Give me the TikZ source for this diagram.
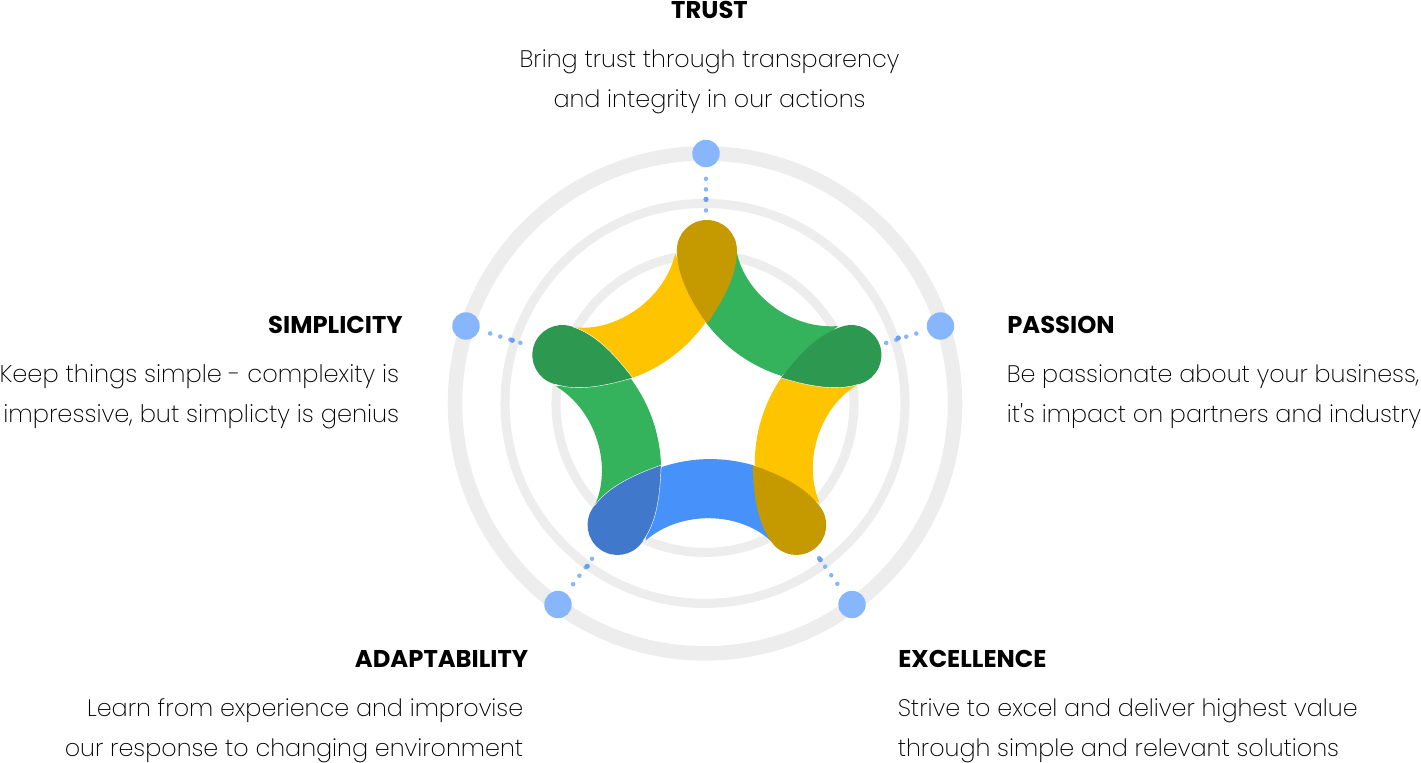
\documentclass[tikz,border=0pt]{standalone}
\usepackage{fontspec}
\newfontfamily\bodyfont{Poppins ExtraLight}
\newfontfamily\headfont{Poppins Bold}
\definecolor{ringgray}{HTML}{EDEDED}
\definecolor{pinblue}{HTML}{88B6FC}
\definecolor{dotdark}{HTML}{6C9FEC}
\definecolor{bandgreen}{HTML}{34B35C}
\definecolor{bandyellow}{HTML}{FFC400}
\definecolor{bandblue}{HTML}{4791FB}
\definecolor{dropgold}{HTML}{C49A00}
\definecolor{dropgreen}{HTML}{2C9850}
\definecolor{dropblue}{HTML}{4079CC}
\begin{document}
\begin{tikzpicture}[
  x=0.75pt, y=-0.75pt,
  ring/.style={draw=ringgray},
  pindot/.style={circle, fill=pinblue, inner sep=0pt, minimum size=20.6pt},
  linkdots/.style={draw=pinblue, line width=3.4pt, line cap=round, dash pattern=on 0pt off 7.9pt},
  seam/.style={draw=white, line width=0.3pt},
  head/.style={font=\headfont\fontsize{18.2}{18.2}\selectfont, inner sep=0pt},
  note/.style={font=\bodyfont\fontsize{17.9}{30}\selectfont, inner sep=0pt}
]
\useasboundingbox (0,0) rectangle (1421,763);
\coordinate (hub) at (705,403.4);
\coordinate (star) at (706.9,402);

% rings
\draw[ring, line width=10.9pt] (hub) circle[radius=250];
\draw[ring, line width=6.8pt] (hub) circle[radius=200];
\draw[ring, line width=6.8pt] (hub) circle[radius=149];

% pins
\node[pindot] (trustpin) at (706,153.5) {};
\node[pindot] (passionpin) at (940.5,326) {};
\node[pindot] (excellencepin) at (852,604.5) {};
\node[pindot] (adaptpin) at (558,604.5) {};
\node[pindot] (simplepin) at (466,326) {};

% dotted links
\coordinate (trustend) at (706,212);
\coordinate (passionend) at (886,343);
\coordinate (excellenceend) at (818.6,557.5);
\coordinate (adaptend) at (594.8,555);
\coordinate (simpleend) at (525,344.2);
\foreach \pinname/\tipname in {trustpin/trustend, passionpin/passionend, excellencepin/excellenceend, adaptpin/adaptend, simplepin/simpleend}
  \draw[linkdots, shorten <=8.5pt] (\pinname) -- (\tipname);
\foreach \x/\y in {706/199.3, 898.3/338, 820.3/559.7, 587.3/566.3, 512.3/340.3}
  \fill[dotdark] (\x,\y) circle[radius=2.6];

% bands
\foreach \k/\col in {0/bandgreen, 1/bandyellow, 2/bandblue, 3/bandgreen, 4/bandyellow} {
  \begin{scope}[shift={(star)}, rotate=-72*\k]
    \fill[\col] (0,-78) .. controls (19.6,-53.1) and (44.6,-35.7) .. (74.8,-26)
      -- (131.1,-76) .. controls (84,-72) and (38,-108) .. (29.8,-150.3) -- cycle;
  \end{scope}
}

% drops
\foreach \k/\col in {0/dropgold, 1/dropgreen, 2/dropgold, 3/dropblue, 4/dropgreen} {
  \begin{scope}[shift={(star)}, rotate=-72*\k]
    \fill[\col] (0,-78) .. controls (15,-100) and (30,-125) .. (30,-152)
      arc[start angle=0, end angle=-180, radius=30]
      .. controls (-30,-125) and (-15,-100) .. (0,-78) -- cycle;
  \end{scope}
}

% seams
\foreach \k/\sgn in {1/1, 3/1, 4/1, 3/-1, 4/-1} {
  \begin{scope}[shift={(star)}, rotate=-72*\k]
    \draw[seam] (0,-78) .. controls (15*\sgn,-100) and (30*\sgn,-125) .. (30*\sgn,-150);
  \end{scope}
}

% labels
\node[head, anchor=base] (trusthead) at (709.5,19) {TRUST};
\node[note, anchor=base, align=center] (trustnote) at (709.5,108) {Bring trust through transparency\\and integrity in our actions};
\node[head, anchor=base west] (passionhead) at (1007,333) {PASSION};
\node[note, anchor=base west, align=left] (passionnote) at (1006.5,422) {Be passionate about your business,\\it's impact on partners and industry};
\node[head, anchor=base west] (excellencehead) at (898,667) {EXCELLENCE};
\node[note, anchor=base west, align=left] (excellencenote) at (897.5,756) {Strive to excel and deliver highest value\\through simple and relevant solutions};
\node[head, anchor=base east] (adapthead) at (528.5,667) {ADAPTABILITY};
\node[note, anchor=base east, align=right] (adaptnote) at (523.5,756) {Learn from experience and improvise\\our response to changing environment};
\node[head, anchor=base east] (simplehead) at (403,333) {SIMPLICITY};
\node[note, anchor=base east, align=right, font=\bodyfont\fontsize{18.1}{30}\selectfont] (simplenote) at (399.5,422) {Keep things simple - complexity is\\impressive, but simplicty is genius};
\end{tikzpicture}
\end{document}
